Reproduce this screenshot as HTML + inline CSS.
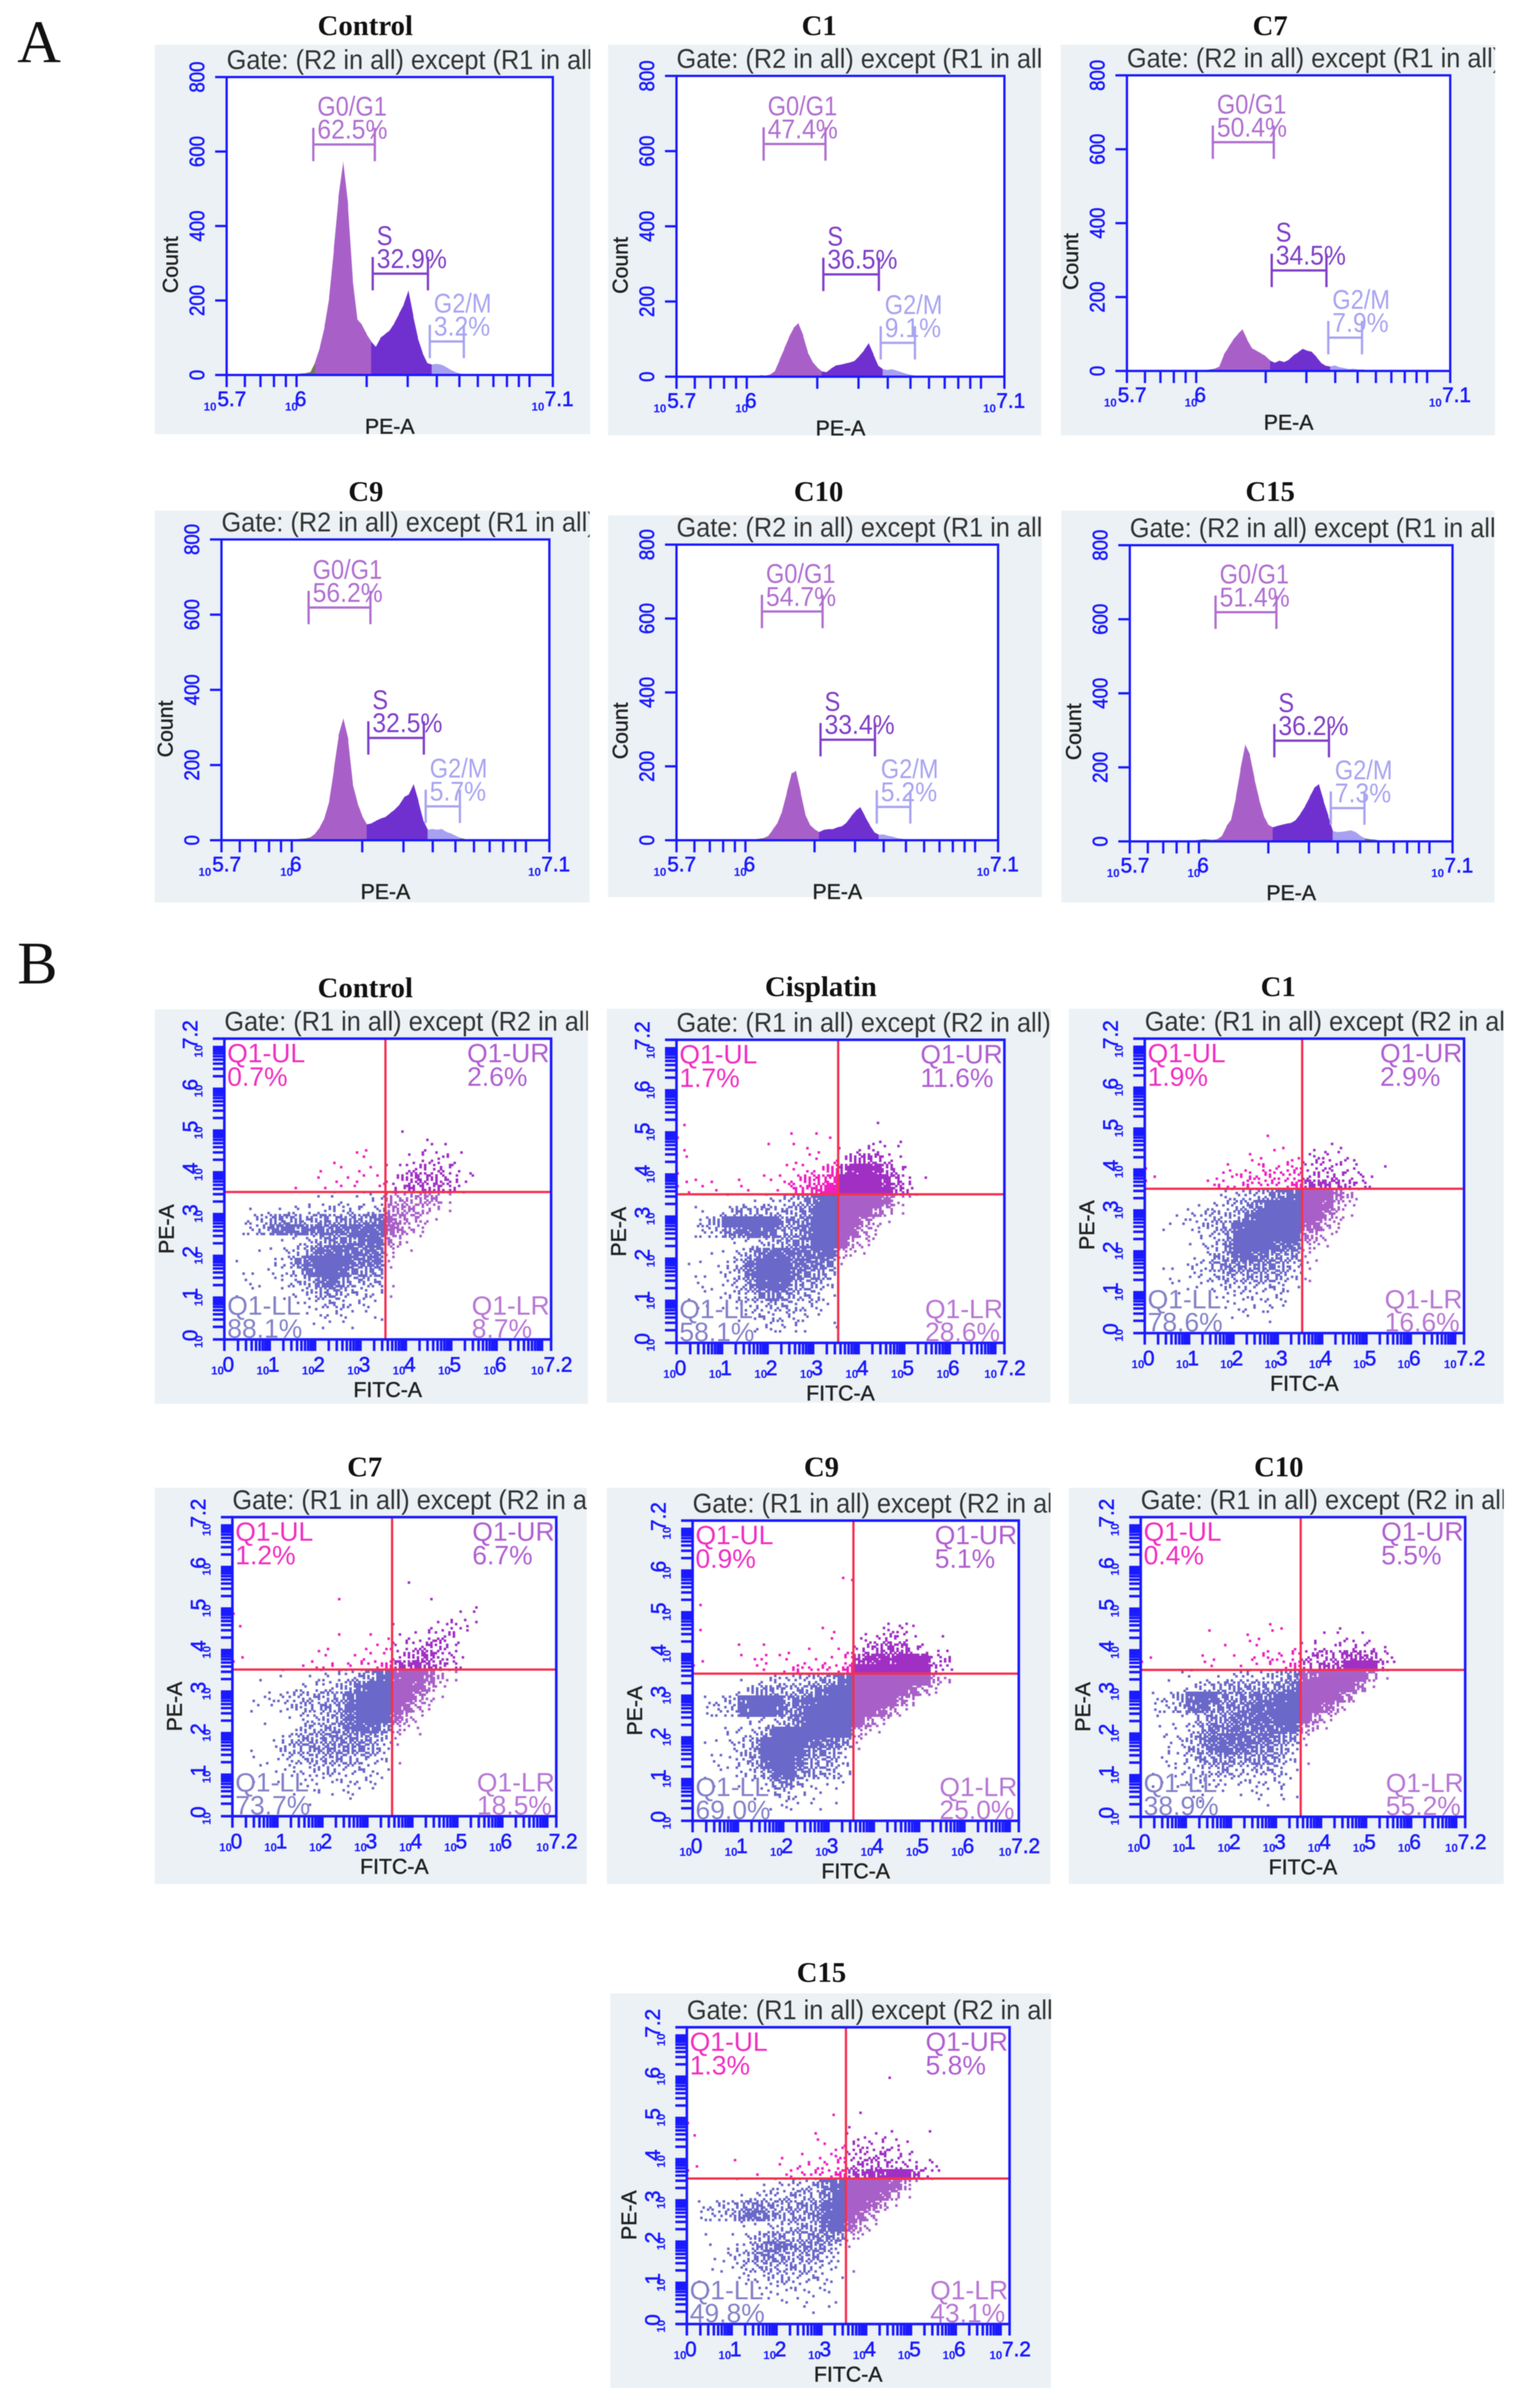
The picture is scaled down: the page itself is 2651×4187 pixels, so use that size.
<!DOCTYPE html>
<html lang="en">
<head>
<meta charset="utf-8">
<title>Cell cycle and apoptosis flow cytometry panels</title>
<style>
html,body{margin:0;padding:0;background:#fff}
#figure{display:block;width:2651px;height:4187px;filter:blur(.8px)}
text{font-family:"Liberation Sans",sans-serif}
.title{font-family:"Liberation Serif",serif;font-weight:bold;font-size:50px;fill:#111;text-anchor:middle}
.letter{font-family:"Liberation Serif",serif;font-size:105px;fill:#111}
.gate{font-size:47px;fill:#333}
.tick{font-size:36px;fill:#1a1aff;stroke:#1a1aff;stroke-width:.9}
.tiny{font-size:20px;font-weight:bold;fill:#1a1aff}
.axis{font-size:37px;fill:#222;stroke:#222;stroke-width:.7;text-anchor:middle}
.q{font-size:46px}
.g{font-size:47px}
</style>
</head>
<body>
<svg id="figure" xmlns="http://www.w3.org/2000/svg" width="2651" height="4187" viewBox="0 0 2651 4187">
<rect width="2651" height="4187" fill="#fff"/>
<text class="letter" x="30" y="108">A</text>
<text class="letter" x="30" y="1710">B</text>
</svg>
<script>
/* ---------- Section A: cell-cycle histogram data ---------- */
const histTitles = ['Control','C1','C7','C9','C10','C15'];
const histStartLog = 5.98;
const histBinWidth = 0.02;
const histControlCounts = [2,3,4,5,8,35,75,130,210,340,480,575,460,260,150,135,110,90,75,100,110,120,140,165,190,228,160,100,60,32,28,30,28,22,14,8,4,2];
const histC1Counts = [2,2,3,2,4,3,6,15,45,75,105,130,143,110,65,40,25,14,12,22,30,32,35,38,42,55,70,90,60,30,20,18,20,16,12,8,5,3,2];
const histC7Counts = [2,3,2,3,4,6,12,45,65,85,100,113,85,62,55,48,40,28,22,28,24,30,42,50,60,55,52,38,22,14,12,15,10,8,5,6,4,4,2];
const histC9Counts = [2,3,3,4,5,8,18,35,60,105,190,280,325,270,150,100,65,42,45,52,58,62,72,82,95,115,122,150,105,55,28,30,28,30,22,18,12,6,3];
const histC10Counts = [2,2,2,3,4,6,12,30,48,80,130,180,188,130,70,42,30,22,28,30,30,35,38,48,65,80,90,65,42,22,15,16,12,10,6,4,3,2];
const histC15Counts = [3,4,6,5,4,6,15,42,60,120,195,262,235,170,115,70,45,38,42,45,48,50,58,75,95,120,145,155,110,70,28,25,26,28,30,25,15,8,6,5,3];
const histSeries = [histControlCounts,histC1Counts,histC7Counts,histC9Counts,histC10Counts,histC15Counts];
const gateNames = ['G0/G1','S','G2/M'];
const gateFromLog = [6.072,6.327,6.572];
const gateToLog = [6.336,6.564,6.718];
const gateLevelCount = [619,272,90];
const gatePercentControl = ['62.5%','32.9%','3.2%'];
const gatePercentC1 = ['47.4%','36.5%','9.1%'];
const gatePercentC7 = ['50.4%','34.5%','7.9%'];
const gatePercentC9 = ['56.2%','32.5%','5.7%'];
const gatePercentC10 = ['54.7%','33.4%','5.2%'];
const gatePercentC15 = ['51.4%','36.2%','7.3%'];
const gatePercents = [gatePercentControl,gatePercentC1,gatePercentC7,gatePercentC9,gatePercentC10,gatePercentC15];
const histYTicks = [0,200,400,600,800];
const histXTickValues = [5.012e5,6e5,7e5,8e5,9e5,1e6,2e6,3e6,4e6,5e6,6e6,7e6,8e6,9e6,1e7,1.259e7];
const histXLabels = ['5.7','6','7.1'];
const histXLabelLogs = [5.7,6,7.1];

/* ---------- Section B: annexin scatter data (dot density 0-9, rows bottom-up, per 0.25 decade bins) ---------- */
const scatterTitles = ['Control','Cisplatin','C1','C7','C9','C10','C15'];
const scatterBinDecades = 0.25;
const scatterControlDensity = [
[],
[0,0,0,0,0,0,0,1,1,1,1,1,0,1],
[0,0,0,0,0,0,0,1,2,2,2,1,1,1],
[0,0,0,0,0,1,1,2,3,4,3,2,2,1],
[0,1,1,0,0,1,2,3,5,6,4,3,3,2,1],
[0,1,1,1,1,2,3,4,7,8,6,4,4,4,1],
[0,1,1,1,1,3,4,7,9,9,8,6,6,6,1],
[0,1,0,0,2,3,6,8,9,9,9,7,7,7,2],
[0,0,0,1,1,2,3,5,7,8,8,7,7,7,3,1,1],
[0,0,0,0,0,1,2,3,5,6,6,7,8,8,5,3,1,1],
[0,1,3,4,7,8,7,7,7,7,7,8,8,8,8,5,3,2],
[0,1,3,3,6,6,5,4,6,5,5,6,6,7,7,6,4,3,1],
[0,0,1,1,1,1,2,2,2,3,3,3,2,3,5,5,5,4,3,1],
[0,0,0,0,0,0,0,0,1,1,1,1,1,2,4,4,4,5,5,2],
[0,0,0,0,0,0,1,0,1,1,1,1,1,1,2,3,5,5,5,4,2,1],
[0,0,0,0,0,0,0,0,1,1,1,1,1,1,1,3,5,5,4,4,2,2],
[0,0,0,0,0,0,0,0,1,1,1,1,1,0,1,1,3,3,3,3,2],
[0,0,0,0,0,0,0,0,0,0,0,1,1,0,0,0,1,2,2,2,1],
[0,0,0,0,0,0,0,0,0,0,0,0,1,0,0,0,0,1,1,1],
[0,0,0,0,0,0,0,0,0,0,0,0,0,0,0,1,0,1]];
const scatterCisplatinDensity = [
[],
[0,0,0,0,0,0,1,2,2,2,2,1,0,1,1],
[0,0,0,0,0,1,2,3,3,3,2,2,1],
[0,1,1,0,1,2,3,3,4,4,3,3,2,1],
[0,1,1,1,2,3,4,6,7,6,4,4,3,1],
[0,1,1,1,2,3,6,8,9,8,5,5,4,2],
[0,1,1,1,2,4,7,9,9,9,7,6,6,4],
[0,1,1,1,2,4,7,9,9,9,7,7,7,6,1],
[0,0,0,1,1,3,5,7,8,8,7,7,8,8,4,2,1],
[0,0,0,0,1,1,2,3,4,5,6,7,9,9,9,4,3,1],
[0,1,3,3,6,7,8,8,7,5,6,7,9,9,9,8,4,2],
[0,1,4,4,9,9,9,9,9,6,6,7,9,9,9,9,6,3,1],
[0,1,1,1,3,5,4,5,4,4,5,6,9,9,9,9,9,7,4,1],
[0,0,0,0,0,1,1,1,2,3,4,6,8,9,9,9,9,9,7,3,1],
[1,1,1,1,1,1,1,1,1,1,4,5,6,9,9,9,9,9,8,5,2,1],
[1,1,0,1,0,1,0,1,1,2,3,4,5,6,9,9,9,9,7,5,2,1],
[1,0,0,0,0,0,0,0,0,1,1,2,2,4,6,8,9,8,5,3,1],
[1,0,0,0,0,0,0,0,0,0,1,1,1,1,2,4,6,5,3,1],
[1,0,0,0,0,0,0,0,1,0,1,1,1,0,1,1,2,2,1,1],
[1,0,0,0,0,0,0,0,0,0,1,0,1,1,0,0,0,1,0,1],
[1,0,0,0,0,0,0,0,0,0,0,0,0,0,0,0,0,1]];
const scatterC1Density = [
[],
[0,0,0,0,0,0,0,1,0,1,0,1],
[0,0,0,0,0,0,0,1,2,2,1,2,1],
[0,1,0,1,0,0,1,2,2,2,2,2,2],
[0,0,1,1,1,1,2,3,3,3,3,3,3,1],
[0,0,1,1,2,2,3,5,4,5,5,5,4,2,2],
[0,1,1,1,2,3,5,6,6,6,6,6,5,3,2],
[0,0,0,0,1,2,4,6,8,8,7,6,5,5,2,1],
[0,0,0,0,1,2,3,6,9,9,9,8,7,7,3,2,1],
[0,0,0,0,1,2,3,5,9,9,9,9,9,9,5,4,2,1],
[0,1,1,1,2,3,4,5,8,9,9,9,9,9,8,7,3,2],
[0,0,1,1,2,3,4,3,4,7,9,9,9,9,9,9,6,3,1],
[0,0,0,1,1,1,2,3,4,5,7,9,9,9,9,9,8,4,2],
[0,0,0,0,0,0,1,2,3,3,4,6,7,8,9,9,9,6,3,1],
[1,0,0,0,0,1,2,2,2,3,3,3,3,4,6,6,6,5,4,3,1],
[1,0,0,0,0,0,1,2,2,3,3,3,3,3,3,3,3,3,2,2,1],
[1,0,0,0,0,0,0,1,0,1,2,1,2,2,2,3,3,2,2,1,0,1],
[0,0,0,0,0,0,0,0,0,1,1,1,0,1,1,2,2,1,1],
[0,0,0,0,0,0,0,0,0,0,0,0,1,0,0,0,1,1],
[0,0,0,0,0,0,0,0,0,0,0,1]];
const scatterC7Density = [
[],
[0,0,0,0,0,0,1,0,0,0,1],
[0,0,0,0,0,1,1,2,1,1,2,1,1],
[0,1,0,0,1,1,2,2,2,2,2,2,2,1],
[0,0,1,1,1,2,2,3,4,3,3,3,2,1],
[0,1,0,1,2,3,4,4,5,5,4,4,3,2,1],
[0,1,0,1,3,4,5,5,6,6,6,6,5,3,1],
[0,0,0,1,2,4,5,5,6,6,6,6,5,3,2,0,1],
[0,0,1,0,0,1,4,4,5,6,7,8,8,6,4,2,1],
[0,0,0,0,0,1,3,3,4,5,7,9,9,9,7,4,2],
[0,1,1,1,2,3,4,4,5,5,8,9,9,9,9,7,4,2],
[0,1,1,2,3,3,4,4,4,5,7,9,9,9,9,9,6,3,1],
[0,0,0,0,0,1,2,2,3,3,5,7,9,9,9,9,8,6,2],
[0,0,1,0,1,0,1,1,2,2,3,4,6,8,8,9,9,7,3,2],
[1,0,0,0,1,0,1,2,2,1,2,2,3,3,6,6,7,6,4,3,1],
[1,0,0,0,0,0,0,1,1,0,1,1,1,1,2,3,5,6,3,3,1],
[0,0,0,0,0,0,0,0,1,0,0,1,1,1,2,2,3,4,4,2,1],
[0,0,0,0,0,0,0,0,0,1,0,0,1,1,1,1,1,2,3,3,1],
[1,0,0,0,0,0,0,0,0,0,0,0,0,0,1,0,0,1,1,3,2,1],
[1,0,0,0,0,0,0,0,0,0,0,0,0,0,0,0,0,0,0,0,1,1],
[0,0,0,0,0,0,0,0,0,1,0,0,0,0,0,0,0,1,0,0,0,1],
[],
[0,0,0,0,0,0,0,0,0,0,0,0,0,0,0,1]];
const scatterC9Density = [
[],
[0,0,0,0,0,0,1,1,2,1,1,1,1],
[0,0,0,0,0,1,1,3,3,2,1,1],
[0,1,0,0,1,1,2,6,6,3,2,1,1,1],
[0,1,1,1,2,3,5,8,9,6,5,4,4,2],
[0,1,1,2,3,4,8,9,9,7,5,5,4,2],
[0,1,1,2,3,6,9,9,9,8,6,6,5,2,1],
[0,1,1,2,3,5,9,9,9,9,8,7,7,5,2],
[0,0,1,2,2,3,5,9,9,9,9,9,9,9,4,2,1],
[0,0,0,0,1,2,2,3,5,7,9,9,9,9,9,6,3,1],
[0,2,3,3,8,9,9,8,6,7,9,9,9,9,9,9,8,5,2],
[0,2,3,3,8,9,9,9,6,7,8,9,9,9,9,9,9,9,6,3],
[0,0,0,1,2,4,6,5,4,5,6,7,9,9,9,9,9,9,9,7,4,2],
[0,0,0,0,1,1,2,3,3,3,4,5,6,8,9,9,9,9,9,9,9,4,2],
[1,0,0,0,0,1,1,1,2,3,2,3,3,4,9,9,9,9,9,9,9,4,2],
[1,0,0,0,1,1,2,1,1,1,1,1,1,2,6,7,8,7,9,9,8,3,3],
[0,0,0,0,1,0,1,0,1,0,1,0,1,1,2,4,5,6,6,3,2,1,1],
[0,0,0,0,0,0,0,0,0,0,0,0,1,0,1,2,3,4,3,1,0,0,1],
[1,0,0,0,0,0,0,0,0,0,0,1,1,0,0,0,1,2,3,1],
[],
[1],
[],
[],
[0,0,0,0,0,0,0,0,0,0,0,0,0,1,1]];
const scatterC10Density = [
[],
[0,0,0,0,1,1,0,0,0,0,1,1,1,1],
[0,1,0,1,1,2,1,1,1,1,2,1,2],
[0,1,0,1,2,3,3,2,3,2,2,2,2,1],
[0,1,1,2,2,3,4,5,3,3,4,4,3,1],
[0,1,1,2,3,5,5,6,5,5,6,6,4,2,1],
[0,0,2,2,4,6,7,8,7,7,6,6,5,3,1],
[0,0,2,2,4,6,7,8,8,7,7,7,6,5,2],
[0,1,1,1,3,5,7,6,7,7,7,7,8,8,5,3,1],
[0,1,0,1,2,4,5,6,7,7,8,8,9,9,9,6,3,1],
[0,2,3,4,7,8,6,6,6,7,8,8,9,9,9,9,7,4,1],
[0,2,3,4,8,9,8,6,6,6,7,7,8,9,9,9,9,8,5,1],
[0,0,0,1,2,3,4,5,5,5,5,5,6,7,9,9,9,9,9,6,1],
[0,0,1,1,1,1,1,1,3,3,2,3,4,6,7,8,9,9,9,9,5,1],
[1,0,0,0,1,1,1,0,1,1,1,2,2,3,4,4,5,6,9,9,9,4,1],
[1,0,0,0,0,1,1,0,1,1,2,2,2,2,3,4,4,4,6,6,5,2,1],
[0,0,0,0,0,0,0,1,0,1,1,0,0,1,1,2,1,2,2,2,2,1],
[0,0,0,0,0,0,1,0,0,1,1,1,0,0,0,0,1,1,1,1],
[0,0,0,0,0,0,0,0,0,0,0,1,1,0,0,0,0,1]];
const scatterC15Density = [
[],
[0,0,0,0,0,0,0,0,0,0,1,1,1],
[0,0,0,0,0,0,1,1,2,1,1,1,0,1],
[0,1,0,0,0,1,1,2,2,2,2,1,2],
[0,1,0,0,1,2,2,3,4,3,3,3,2,1],
[0,0,1,1,2,3,4,4,4,4,4,3,2,1,1],
[0,0,1,2,2,4,6,6,5,4,5,5,3,2],
[0,0,1,1,2,3,5,7,7,5,6,6,5,2,1],
[0,1,0,0,1,2,4,5,5,4,5,6,6,6,3,2],
[0,0,0,0,1,1,1,2,3,4,4,5,8,9,7,4,2],
[0,2,3,3,5,7,7,6,4,5,5,6,8,9,9,7,4,1],
[0,2,3,3,4,6,6,5,4,5,5,6,8,9,9,9,7,4,1],
[0,0,0,0,1,1,3,3,3,4,4,4,6,9,9,9,9,8,5,1],
[0,0,0,0,0,0,1,1,2,3,3,4,7,8,9,9,9,9,8,5,1],
[1,0,0,0,1,0,1,1,1,2,2,3,3,4,5,6,7,8,9,9,5,3,1],
[1,0,0,0,1,0,0,0,1,1,2,1,2,2,3,4,4,4,3,3,2,2,1],
[0,0,0,0,0,0,0,0,1,0,1,1,1,2,3,3,3,4,2,2,1],
[0,0,0,0,0,0,0,0,0,0,0,1,1,1,2,2,2,2,2,1],
[1,0,0,0,0,0,0,0,0,0,0,1,0,0,1,1,1,1,1,0,0,1],
[1,0,0,0,0,0,0,0,0,0,0,0,0,0,1],
[0,0,0,0,0,0,0,0,0,0,0,0,0,1,0,1],
[],
[],
[0,0,0,0,0,0,0,0,0,0,0,0,0,0,0,0,0,0,1]];
const scatterSeries = [scatterControlDensity,scatterCisplatinDensity,scatterC1Density,scatterC7Density,scatterC9Density,scatterC10Density,scatterC15Density];
const quadrantNames = ['Q1-UL','Q1-UR','Q1-LL','Q1-LR'];
const quadPercentControl = ['0.7%','2.6%','88.1%','8.7%'];
const quadPercentCisplatin = ['1.7%','11.6%','58.1%','28.6%'];
const quadPercentC1 = ['1.9%','2.9%','78.6%','16.6%'];
const quadPercentC7 = ['1.2%','6.7%','73.7%','18.5%'];
const quadPercentC9 = ['0.9%','5.1%','69.0%','25.0%'];
const quadPercentC10 = ['0.4%','5.5%','38.9%','55.2%'];
const quadPercentC15 = ['1.3%','5.8%','49.8%','43.1%'];
const quadPercents = [quadPercentControl,quadPercentCisplatin,quadPercentC1,quadPercentC7,quadPercentC9,quadPercentC10,quadPercentC15];
const gateQuadX = 3.55;
const gateQuadY = 3.53;
const scatterDecades = [0,1,2,3,4,5,6,7];
const scatterMultipliers = [1,2,3,4,5,6,7,8,9];

/* ---------- Page layout (pixels; not chart data) ---------- */
const histLayout = [
 {bg:[269,78,1026,755],f:[394,134,961,652],t:[635,61]},
 {bg:[1057,78,1810,757],f:[1176,132,1746,655],t:[1424,61]},
 {bg:[1844,78,2599,757],f:[1959,131,2521,645],t:[2208,61]},
 {bg:[269,888,1025,1569],f:[385,938,955,1461],t:[636,871]},
 {bg:[1057,896,1811,1560],f:[1176,947,1735,1461],t:[1423,871]},
 {bg:[1845,888,2598,1569],f:[1964,948,2525,1463],t:[2208,871]}];
const scatterLayout = [
 {bg:[269,1755,1022,2441],f:[390,1806,958,2329],t:[635,1734]},
 {bg:[1055,1754,1826,2439],f:[1176,1808,1746,2335],t:[1427,1732]},
 {bg:[1858,1754,2614,2441],f:[1990,1806,2545,2318],t:[2222,1732]},
 {bg:[269,2587,1020,3276],f:[404,2638,967,3158],t:[634,2567]},
 {bg:[1055,2587,1826,3276],f:[1204,2644,1771,3166],t:[1428,2567]},
 {bg:[1858,2587,2614,3276],f:[1983,2638,2547,3159],t:[2223,2567]},
 {bg:[1061,3466,1827,4152],f:[1194,3525,1755,4041],t:[1428,3446]}];

const BLUE = '#1a1aff';
const svg = document.getElementById('figure');
const NS = 'http://www.w3.org/2000/svg';
function mk(tag, attrs, parent, text){
  const n = document.createElementNS(NS, tag);
  for (const k in attrs) n.setAttribute(k, attrs[k]);
  if (text !== undefined) n.textContent = text;
  parent.appendChild(n);
  return n;
}
function squeeze(el, k){
  const len = el.getComputedTextLength();
  el.setAttribute('textLength', (len*k).toFixed(1));
  el.setAttribute('lengthAdjust', 'spacingAndGlyphs');
}
let clipCount = 0;
function base(title, gate, L, group){
  const [bx1,by1,bx2,by2] = L.bg;
  const bg = mk('rect',{x:bx1,y:by1,width:bx2-bx1,height:by2-by1,fill:'#ebf1f4'},group);
  
  
  const t = mk('text',{class:'title',x:L.t[0],y:L.t[1]},group,title);
  
  
  const id = 'clip'+(clipCount++);
  const cp = mk('clipPath',{id:id},group);
  mk('rect',{x:bx1,y:by1,width:bx2-bx1,height:by2-by1},cp);
  const g = mk('text',{class:'gate',x:L.f[0],y:L.f[1]-14,'clip-path':'url(#'+id+')'},group,gate);
  squeeze(g, 44/47);
  
  
  const w = mk('rect',{x:L.f[0],y:L.f[1],width:L.f[2]-L.f[0],height:L.f[3]-L.f[1],fill:'#fff'},group);
  
  
}
function line(x1,y1,x2,y2,color,width,group){
  return mk('line',{x1:x1,y1:y1,x2:x2,y2:y2,stroke:color,'stroke-width':width},group);
}

/* ---------- Histograms ---------- */
const gateColors = ['#a860c8','#7030d0','#a8a0f0'];
const gateTextColors = ['#b070d0','#8040c8','#a8a4f0'];
histSeries.forEach(function(counts, p){
  const L = histLayout[p];
  const [x1,y1,x2,y2] = L.f;
  const X = function(v){ return x1 + (v-5.7)/1.4*(x2-x1); };
  const Y = function(c){ return y2 - c/800*(y2-y1); };
  const group = mk('g',{},svg);
  
  
  base(histTitles[p], 'Gate: (R2 in all) except (R1 in all)', L, group);

  counts.forEach(function(c, i){
    if (i === counts.length-1) return;
    const lo = histStartLog + i*histBinWidth;
    const hi = lo + histBinWidth;
    const mid = (lo+hi)/2;
    let fill = '#6f7a58';
    if (mid >= gateFromLog[0] && mid < gateFromLog[1]) fill = gateColors[0];
    else if (mid >= gateFromLog[1] && mid < gateFromLog[2]) fill = gateColors[1];
    else if (mid >= gateFromLog[2] && mid < gateToLog[2]) fill = gateColors[2];
    const pts = [X(lo),Y(0),X(lo),Y(c),X(hi)+.5,Y(counts[i+1]),X(hi)+.5,Y(0)].map(function(n){return n.toFixed(1);}).join(' ');
    const seg = mk('polygon',{points:pts,fill:fill},group);
    
    
  });

  gateNames.forEach(function(name, g){
    const xa = X(gateFromLog[g]), xb = X(gateToLog[g]), yy = Y(gateLevelCount[g]);
    const c = gateTextColors[g];
    const br = mk('path',{d:'M'+xa+' '+(yy-29)+'V'+(yy+29)+'M'+xb+' '+(yy-29)+'V'+(yy+29)+'M'+xa+' '+yy+'H'+xb,stroke:c,'stroke-width':4,fill:'none'},group);
    
    
    const n = mk('text',{class:'g',x:xa+7,y:yy-50,fill:c},group,name);
    squeeze(n, 41/47);
    
    
    const v = mk('text',{class:'g',x:xa+7,y:yy-10,fill:c},group,gatePercents[p][g]);
    squeeze(v, 43/47);
    
    
  });

  const fr = mk('rect',{x:x1,y:y1,width:x2-x1,height:y2-y1,fill:'none',stroke:BLUE,'stroke-width':4},group);
  
  

  histYTicks.forEach(function(v){
    const tk = line(x1-20,Y(v),x1,Y(v),BLUE,4,group);
    
    
    const lb = mk('text',{class:'tick','text-anchor':'middle',transform:'translate('+(x1-39)+' '+Y(v)+') rotate(-90)'},group,v);
    squeeze(lb, .9);
    
    
  });
  histXTickValues.forEach(function(v){
    const xx = X(Math.log10(v));
    const tk = line(xx,y2,xx,y2+21,BLUE,4,group);
    
    
  });
  histXLabels.forEach(function(lbl, i){
    const xx = X(histXLabelLogs[i]);
    const off = i===0 ? [-40,-16] : (i===1 ? [-20,-3] : [-37,-14]);
    const tiny = mk('text',{class:'tiny',x:xx+off[0],y:y2+62},group,'10');
    
    
    const big = mk('text',{class:'tick',x:xx+off[1],y:y2+54},group,lbl);
    
    
  });
  const xt = mk('text',{class:'axis',x:(x1+x2)/2,y:y2+102},group,'PE-A');
  
  
  const yt = mk('text',{class:'axis',transform:'translate('+(x1-85)+' '+Y(296)+') rotate(-90)'},group,'Count');
  
  
});

/* ---------- Scatter plots ---------- */
const dotOrder = [12,0,24,4,20,7,17,2,22,10,14,5,19,1,23,9,15,3,21,6,18,11,13,8,16];
const dotsPerLevel = [0,1,3,5,8,11,14,18,22,25];
const quadDotColors = ['#f020c0','#a030c4','#6a68c8','#a860c8'];
const quadTextColors = ['#f030c0','#b060d0','#8482c8','#b878d4'];
scatterSeries.forEach(function(density, p){
  const L = scatterLayout[p];
  const [x1,y1,x2,y2] = L.f;
  const X = function(v){ return x1 + v/7.2*(x2-x1); };
  const Y = function(v){ return y2 - v/7.2*(y2-y1); };
  const group = mk('g',{},svg);
  
  
  base(scatterTitles[p], 'Gate: (R1 in all) except (R2 in all)', L, group);

  const paths = ['','','',''];
  density.forEach(function(row, j){
    row.forEach(function(level, i){
      if (!level) return;
      const n = dotsPerLevel[level];
      const rot = (i*7 + j*11) % 25;
      for (let k = 0; k < n; k++){
        const cell = dotOrder[(k + rot) % 25];
        const dx = (cell % 5 + .5)/5*scatterBinDecades;
        const dy = (Math.floor(cell/5) + .5)/5*scatterBinDecades;
        const vx = i*scatterBinDecades + dx;
        const vy = j*scatterBinDecades + dy;
        const q = (vy >= gateQuadY ? 0 : 2) + (vx >= gateQuadX ? 1 : 0);
        const s = level >= 7 ? 5 : 4.4;
        paths[q] += 'M'+(X(vx)-s/2).toFixed(1)+' '+(Y(vy)-s/2).toFixed(1)+'h'+s+'v'+s+'h-'+s+'z';
      }
    });
  });
  paths.forEach(function(d, q){
    const cloud = mk('path',{d:d,fill:quadDotColors[q]},group);
    
    
  });

  const qx = line(X(gateQuadX),y1,X(gateQuadX),y2,'#f5304f',4,group);
  
  
  const qy = line(x1,Y(gateQuadY),x2,Y(gateQuadY),'#f5304f',4,group);
  
  

  const fr = mk('rect',{x:x1,y:y1,width:x2-x1,height:y2-y1,fill:'none',stroke:BLUE,'stroke-width':4.5},group);
  
  

  const tickVals = [];
  scatterDecades.forEach(function(d){
    scatterMultipliers.forEach(function(m){
      const v = d + Math.log10(m);
      if (v <= 7.2) tickVals.push(v);
    });
  });
  tickVals.push(7.2);
  tickVals.forEach(function(v){
    const tx = line(X(v),y2,X(v),y2+20,BLUE,4.4,group);
    
    
    const ty = line(x1-20,Y(v),x1,Y(v),BLUE,4.4,group);
    
    
  });
  const labels = scatterDecades.map(String).concat(['7.2']);
  const labelVals = scatterDecades.concat([7.2]);
  labels.forEach(function(lbl, i){
    if (lbl === '7') return;
    const v = labelVals[i];
    const top = lbl === '7.2';
    const tx = mk('text',{class:'tiny',x:X(v)+(top?-35:-23),y:y2+61},group,'10');
    
    
    const bx = mk('text',{class:'tick',x:X(v)+(top?-13:-3),y:y2+56},group,lbl);
    
    
    const ty = mk('text',{class:'tiny',transform:'translate('+(x1-38)+' '+(Y(v)+(top?33:15))+') rotate(-90)'},group,'10');
    
    
    const by = mk('text',{class:'tick',transform:'translate('+(x1-47)+' '+(Y(v)+(top?18:3))+') rotate(-90)'},group,lbl);
    
    
  });

  const pct = quadPercents[p];
  const starts = [x1+5, x2-146, x1+5, x2-138];
  const baselines = [y1+41, y1+41, y2-43, y2-43];
  const offsets = [41, 41, 40, 40];
  quadrantNames.forEach(function(name, q){
    const a = mk('text',{class:'q',x:starts[q],y:baselines[q],fill:quadTextColors[q]},group,name);
    
    
    const b = mk('text',{class:'q',x:starts[q],y:baselines[q]+offsets[q],fill:quadTextColors[q]},group,pct[q]);
    
    
  });

  const xt = mk('text',{class:'axis',x:(x1+x2)/2,y:y2+100},group,'FITC-A');
  
  
  const yt = mk('text',{class:'axis',transform:'translate('+(x1-88)+' '+Y(2.64)+') rotate(-90)'},group,'PE-A');
  
  
});
</script>
</body>
</html>
